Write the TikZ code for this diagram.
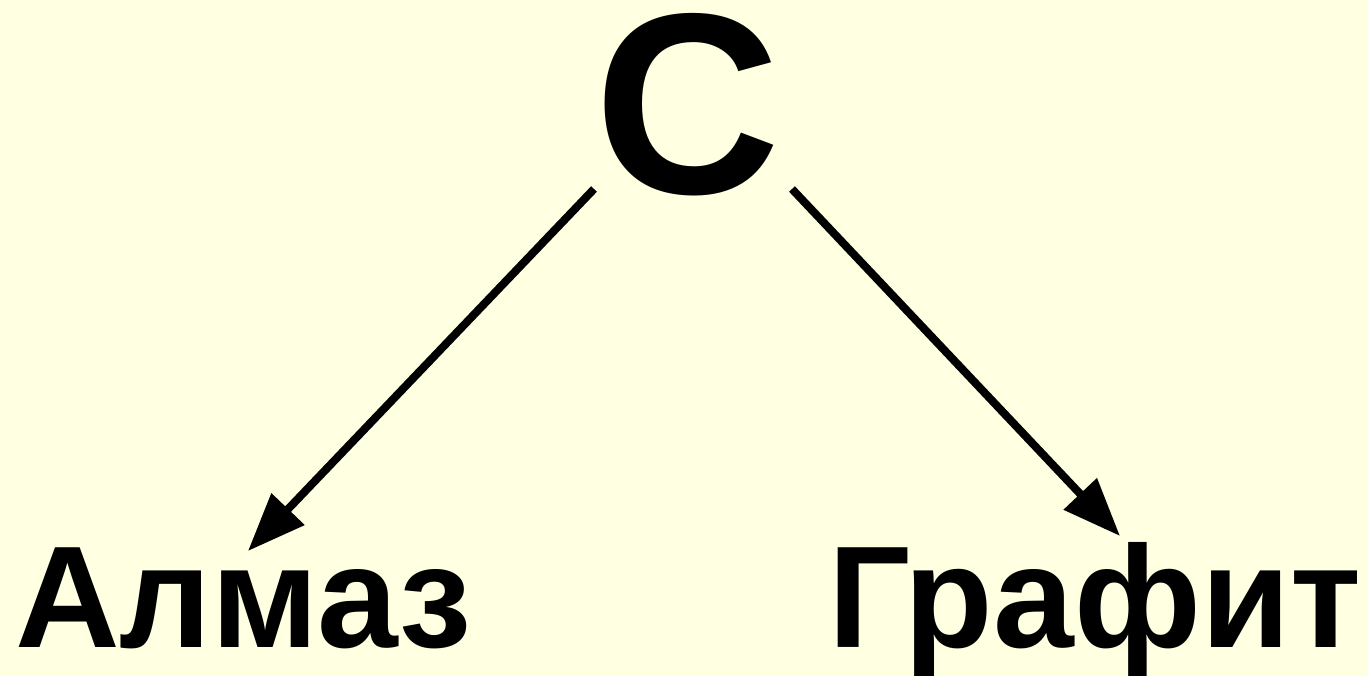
\documentclass[tikz,border=0pt]{standalone}
\usepackage{fontspec}
\setmainfont{Liberation Sans}
\usetikzlibrary{arrows.meta}
\definecolor{bgyellow}{RGB}{255,255,225}
\tikzset{
  label text/.style={inner sep=0pt, font=\bfseries\fontsize{145}{150}\selectfont},
  big text/.style={inner sep=0pt, font=\bfseries\fontsize{258}{260}\selectfont},
  conn/.style={line width=8pt, -{Triangle[length=58pt,width=44pt]}}
}
\begin{document}
\begin{tikzpicture}[x=1pt,y=-1pt]
\fill[bgyellow] (0,0) rectangle (1368,676);
\useasboundingbox (0,0) rectangle (1368,676);
\node[big text, anchor=base] (c) at (688,194) {C};
\node[label text, anchor=base west] (almaz) at (15,647) {Алмаз};
\node[label text, anchor=base west] (grafit) at (828,647) {Графит};
\coordinate (s1) at (594,189);
\coordinate (t1) at (248,551);
\coordinate (s2) at (792,189);
\coordinate (t2) at (1120,536);
\draw[conn] (s1) -- (t1);
\draw[conn] (s2) -- (t2);
\end{tikzpicture}
\end{document}
